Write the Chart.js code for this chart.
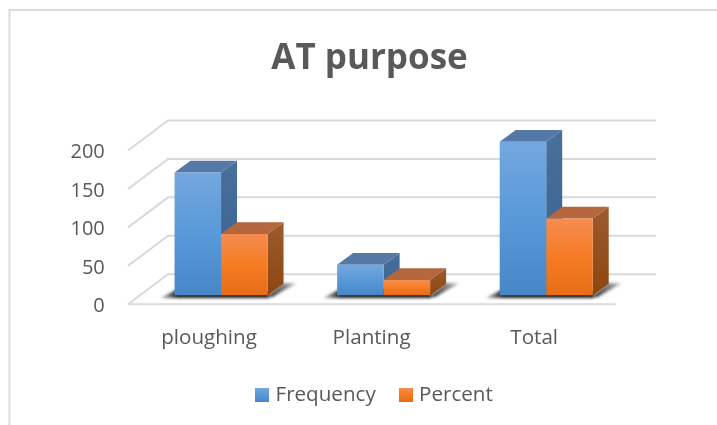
<!DOCTYPE html>
<html>
<head>
<meta charset="utf-8">
<title>AT purpose</title>
<style>
  html, body { margin: 0; padding: 0; background: #ffffff; }
  #wrap { width: 717px; height: 425px; }
</style>
<script src="https://cdn.jsdelivr.net/npm/chart.js@4"></script>
</head>
<body>
<div id="wrap"><canvas id="chart" width="717" height="425"></canvas></div>
<script>
const categories = ['ploughing', 'Planting', 'Total'];
const frequency = [160, 40, 200];
const percent = [80, 20, 100];
const chartTitle = 'AT purpose';

const FONT = '"Open Sans", sans-serif';
const TEXT = '#595959';
const GRID = '#d9d9d9';

// Oblique projection of the box: floor runs from the front edge to the back wall
const FLOOR_FRONT = { dx: -11.7, dy: 8.8 };
const FLOOR_BACK = { dx: 28.3, dy: -21.2 };
const BAR_DEPTH = { dx: 16, dy: -11.7 };

const BLUE = {
  front: [[0, '#74a8df'], [0.5, '#5899d9'], [1, '#4787c8']],
  side: [[0, '#4a6f9b'], [1, '#35628f']],
  top: '#5579a6'
};
const ORANGE = {
  front: [[0, '#f58c52'], [0.5, '#f67c22'], [1, '#e66c18']],
  side: [[0, '#9c5a2e'], [1, '#8e4610']],
  top: '#b5663c'
};

function verticalGradient(ctx, y0, y1, stops) {
  const g = ctx.createLinearGradient(0, y0, 0, y1);
  stops.forEach(([at, color]) => g.addColorStop(at, color));
  return g;
}

function barFill(palette) {
  return (context) => {
    const { chart, parsed } = context;
    const y = chart.scales.y;
    if (!chart.chartArea || !parsed) return palette.front[1][1];
    return verticalGradient(chart.ctx, y.getPixelForValue(parsed.y), y.getPixelForValue(0), palette.front);
  };
}

function legendSwatch(palette) {
  const c = document.createElement('canvas');
  c.width = 14;
  c.height = 14;
  const g = c.getContext('2d');
  g.fillStyle = verticalGradient(g, 0, 14, palette.front);
  g.fillRect(0, 0, 14, 14);
  return c;
}

function polygon(ctx, pts, fill) {
  ctx.beginPath();
  pts.forEach(([x, y], i) => (i ? ctx.lineTo(x, y) : ctx.moveTo(x, y)));
  ctx.closePath();
  ctx.fillStyle = fill;
  ctx.fill();
}

// Frame of the chart object, drawn along its top and left edges
const frame = {
  id: 'frame',
  beforeDraw(chart) {
    const { ctx, width, height } = chart;
    ctx.save();
    ctx.fillStyle = '#ffffff';
    ctx.fillRect(0, 0, width, height);
    ctx.strokeStyle = '#dcdcdc';
    ctx.lineWidth = 2;
    ctx.beginPath();
    ctx.moveTo(9.5, height);
    ctx.lineTo(9.5, 10);
    ctx.lineTo(width, 10);
    ctx.stroke();
    ctx.restore();
  }
};

// Back wall, side wall and floor lines, taken from the value axis
const walls = {
  id: 'walls',
  beforeDatasetsDraw(chart) {
    const { ctx, chartArea } = chart;
    const y = chart.scales.y;
    const xf = chartArea.left + FLOOR_FRONT.dx;
    const xb = chartArea.left + FLOOR_BACK.dx;
    const xbr = chartArea.right + FLOOR_BACK.dx;
    const xfr = chartArea.right + FLOOR_FRONT.dx;
    ctx.save();
    ctx.strokeStyle = GRID;
    ctx.lineWidth = 2;
    y.ticks.forEach(({ value }) => {
      const p = y.getPixelForValue(value);
      ctx.beginPath();
      ctx.moveTo(xf, p + FLOOR_FRONT.dy);
      ctx.lineTo(xb, p + FLOOR_BACK.dy);
      ctx.lineTo(xbr, p + FLOOR_BACK.dy);
      ctx.stroke();
    });
    const base = y.getPixelForValue(0) + FLOOR_FRONT.dy;
    ctx.beginPath();
    ctx.moveTo(xf, base);
    ctx.lineTo(xfr, base);
    ctx.stroke();
    ctx.restore();
  }
};

// Side and top faces of each bar plus the soft shadow on the floor
const boxes = {
  id: 'boxes',
  beforeDatasetsDraw(chart) {
    const { ctx } = chart;
    const first = chart.getDatasetMeta(0).data;
    const second = chart.getDatasetMeta(1).data;
    const { dx, dy } = BAR_DEPTH;

    ctx.save();
    ctx.filter = 'blur(1.5px)';
    first.forEach((bar, i) => {
      const x0 = bar.x - bar.width / 2;
      const x1 = second[i].x + second[i].width / 2;
      const b = bar.base;
      const left = ctx.createLinearGradient(x0 - 15, 0, x0 + 3, 0);
      left.addColorStop(0, 'rgba(60,60,60,0.3)');
      left.addColorStop(1, 'rgba(30,30,30,1)');
      polygon(ctx, [[x0 - 14, b + 2.5], [x1 + 1, b + 2.5], [x1 + 1, b - 4], [x0 + 6, b - 8]], left);
      const right = ctx.createLinearGradient(x1, b, x1 + dx + 13, b);
      right.addColorStop(0, 'rgba(30,30,30,1)');
      right.addColorStop(1, 'rgba(60,60,60,0.3)');
      polygon(ctx, [[x1 - 1, b + 1.5], [x1 + 5, b + 1.5], [x1 + dx + 13, b + dy - 0.5], [x1 + dx - 1, b + dy - 0.5]], right);
    });
    ctx.filter = 'none';

    [[first, BLUE], [second, ORANGE]].forEach(([bars, palette]) => {
      bars.forEach((bar) => {
        const x0 = bar.x - bar.width / 2;
        const x1 = bar.x + bar.width / 2;
        const t = bar.y;
        const b = bar.base;
        polygon(ctx, [[x1, t], [x1 + dx, t + dy], [x1 + dx, b + dy], [x1, b]],
          verticalGradient(ctx, t + dy, b, palette.side));
        polygon(ctx, [[x0, t], [x0 + dx, t + dy], [x1 + dx, t + dy], [x1, t]], palette.top);
      });
    });
    ctx.restore();
  }
};

// Nudges the legend row to its place beside the centred title
const legendShift = {
  id: 'legendShift',
  afterLayout(chart) {
    chart.legend.left += 6.5;
    chart.legend.right += 6.5;
  }
};

new Chart(document.getElementById('chart'), {
  type: 'bar',
  data: {
    labels: categories,
    datasets: [
      { label: 'Frequency', data: frequency, backgroundColor: barFill(BLUE), borderWidth: 0 },
      { label: 'Percent', data: percent, backgroundColor: barFill(ORANGE), borderWidth: 0 }
    ]
  },
  plugins: [frame, walls, boxes, legendShift],
  options: {
    responsive: false,
    animation: false,
    categoryPercentage: 0.572,
    barPercentage: 1,
    layout: { padding: { left: 22, right: 0, top: 0, bottom: 10 } },
    scales: {
      x: {
        grid: { display: false },
        border: { display: false },
        ticks: { color: TEXT, font: { family: FONT, size: 20.6 }, padding: 22, labelOffset: -12, maxRotation: 0 },
        afterFit(scale) { scale.height = 62; }
      },
      y: {
        min: 0,
        max: 200,
        grid: { display: false, drawTicks: false },
        border: { display: false },
        ticks: { stepSize: 50, color: TEXT, font: { family: FONT, size: 20 }, padding: 35, labelOffset: 11 },
        afterFit(scale) { scale.width = 117.75; }
      },
      spacer: {
        position: 'right',
        grid: { display: false, drawTicks: false },
        border: { display: false },
        ticks: { display: false },
        afterFit(scale) { scale.width = 89.5; }
      }
    },
    plugins: {
      tooltip: { enabled: false },
      title: {
        display: true,
        text: chartTitle,
        color: TEXT,
        font: { family: FONT, size: 35, weight: 'bold', lineHeight: 1.2 },
        padding: { top: 38, bottom: 61.7 }
      },
      legend: {
        position: 'bottom',
        labels: {
          color: TEXT,
          font: { family: FONT, size: 20.6 },
          usePointStyle: true,
          pointStyleWidth: 6,
          padding: 27,
          generateLabels(chart) {
            return chart.data.datasets.map((d, i) => ({
              text: d.label,
              datasetIndex: i,
              fontColor: TEXT,
              lineWidth: 0,
              pointStyle: legendSwatch(i === 0 ? BLUE : ORANGE)
            }));
          }
        }
      }
    }
  }
});
</script>
</body>
</html>
